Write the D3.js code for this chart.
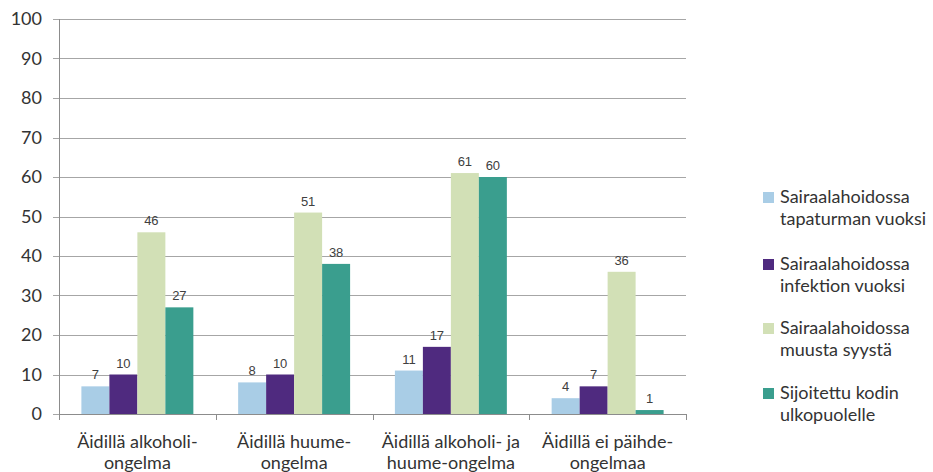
<!DOCTYPE html>
<html>
<head>
<meta charset="utf-8">
<script src="https://cdn.jsdelivr.net/npm/d3@7"></script>
<style>
  body { margin: 0; background: #fff; }
  svg { display: block; }
</style>
</head>
<body>
<div id="chart"></div>
<script>
// data
const categories = [
    ["Äidillä alkoholi-", "ongelma"],
    ["Äidillä huume-", "ongelma"],
    ["Äidillä alkoholi- ja", "huume-ongelma"],
    ["Äidillä ei päihde-", "ongelmaa"]
];
const seriesNames = [
    ["Sairaalahoidossa", "tapaturman vuoksi"],
    ["Sairaalahoidossa", "infektion vuoksi"],
    ["Sairaalahoidossa", "muusta syystä"],
    ["Sijoitettu kodin", "ulkopuolelle"]
];
const tapaturma = [7, 8, 11, 4];
const infektio = [10, 10, 17, 7];
const muu = [46, 51, 61, 36];
const sijoitettu = [27, 38, 60, 1];
const yTicks = [0, 10, 20, 30, 40, 50, 60, 70, 80, 90, 100];
const colors = ["#a9cde6", "#4f2a7f", "#d2e0b6", "#3a9e8e"];

const series = [tapaturma, infektio, muu, sijoitettu];

const width = 933, height = 472;
const margin = {left: 59, right: 247, top: 19, bottom: 58};
const font = 'Lato, "Open Sans", sans-serif';
const textColor = '#333333';

const svg = d3.select('#chart')
    .append('svg')
    .attr('width', width)
    .attr('height', height);

const x = d3.scaleBand()
    .domain(d3.range(categories.length))
    .range([margin.left, width - margin.right]);

const xInner = d3.scaleBand()
    .domain(d3.range(series.length))
    .range([0, x.bandwidth()])
    .paddingOuter(0.8);

const y = d3.scaleLinear()
    .domain([0, 100])
    .range([height - margin.bottom, margin.top]);

// gridlines
svg.append('g')
    .selectAll('line')
    .data(yTicks)
    .join('line')
    .attr('x1', margin.left - 6)
    .attr('x2', width - margin.right)
    .attr('y1', d => Math.round(y(d)) + 0.5)
    .attr('y2', d => Math.round(y(d)) + 0.5)
    .attr('stroke', '#a6a6a6')
    .attr('stroke-width', 1);

// y labels
svg.append('g')
    .selectAll('text')
    .data(yTicks)
    .join('text')
    .attr('x', margin.left - 17)
    .attr('y', d => y(d))
    .attr('dy', '0.35em')
    .attr('text-anchor', 'end')
    .attr('font-family', font)
    .attr('font-size', 18)
    .attr('fill', textColor)
    .text(d => d);

// bars
series.forEach((vals, si) => {
    svg.append('g')
        .selectAll('rect')
        .data(vals)
        .join('rect')
        .attr('x', (d, i) => x(i) + xInner(si))
        .attr('y', d => y(d))
        .attr('width', xInner.bandwidth())
        .attr('height', d => y(0) - y(d))
        .attr('fill', colors[si]);

    svg.append('g')
        .selectAll('text')
        .data(vals)
        .join('text')
        .attr('x', (d, i) => x(i) + xInner(si) + xInner.bandwidth() / 2)
        .attr('y', d => y(d) - 7)
        .attr('text-anchor', 'middle')
        .attr('font-family', 'Liberation Sans, Arial, sans-serif')
        .attr('font-size', 13)
        .attr('fill', '#404040')
        .text(d => d);
});

// axes lines
const axisColor = '#8c8c8c';
svg.append('line')
    .attr('x1', margin.left + 0.5).attr('x2', margin.left + 0.5)
    .attr('y1', margin.top).attr('y2', y(0) + 6)
    .attr('stroke', axisColor);
svg.append('line')
    .attr('x1', margin.left).attr('x2', width - margin.right)
    .attr('y1', Math.round(y(0)) + 0.5).attr('y2', Math.round(y(0)) + 0.5)
    .attr('stroke', axisColor);
svg.append('g')
    .selectAll('line')
    .data(d3.range(categories.length + 1))
    .join('line')
    .attr('x1', i => Math.round(margin.left + i * x.step()) + 0.5)
    .attr('x2', i => Math.round(margin.left + i * x.step()) + 0.5)
    .attr('y1', y(0))
    .attr('y2', y(0) + 6)
    .attr('stroke', axisColor);

// category labels
const catG = svg.append('g')
    .selectAll('text')
    .data(categories)
    .join('text')
    .attr('x', (d, i) => x(i) + x.bandwidth() / 2)
    .attr('y', y(0) + 34)
    .attr('text-anchor', 'middle')
    .attr('font-family', font)
    .attr('font-size', 18)
    .attr('fill', textColor);
catG.selectAll('tspan')
    .data((d, i) => d.map(t => ({t, i})))
    .join('tspan')
    .attr('x', d => x(d.i) + x.bandwidth() / 2)
    .attr('dy', (d, j) => j === 0 ? 0 : 21)
    .text(d => d.t);

// legend
const legendY = [197, 264, 328, 393];
const legend = svg.append('g')
    .selectAll('g')
    .data(seriesNames)
    .join('g')
    .attr('transform', (d, i) => `translate(763, ${legendY[i]})`);
legend.append('rect')
    .attr('x', 0)
    .attr('y', -5)
    .attr('width', 11)
    .attr('height', 11)
    .attr('fill', (d, i) => colors[i]);
legend.append('text')
    .attr('x', 17)
    .attr('y', 0)
    .attr('font-family', font)
    .attr('font-size', 18)
    .attr('fill', textColor)
    .selectAll('tspan')
    .data(d => d)
    .join('tspan')
    .attr('x', 17)
    .attr('dy', (d, j) => j === 0 ? '0.35em' : 22)
    .text(d => d);
</script>
</body>
</html>
